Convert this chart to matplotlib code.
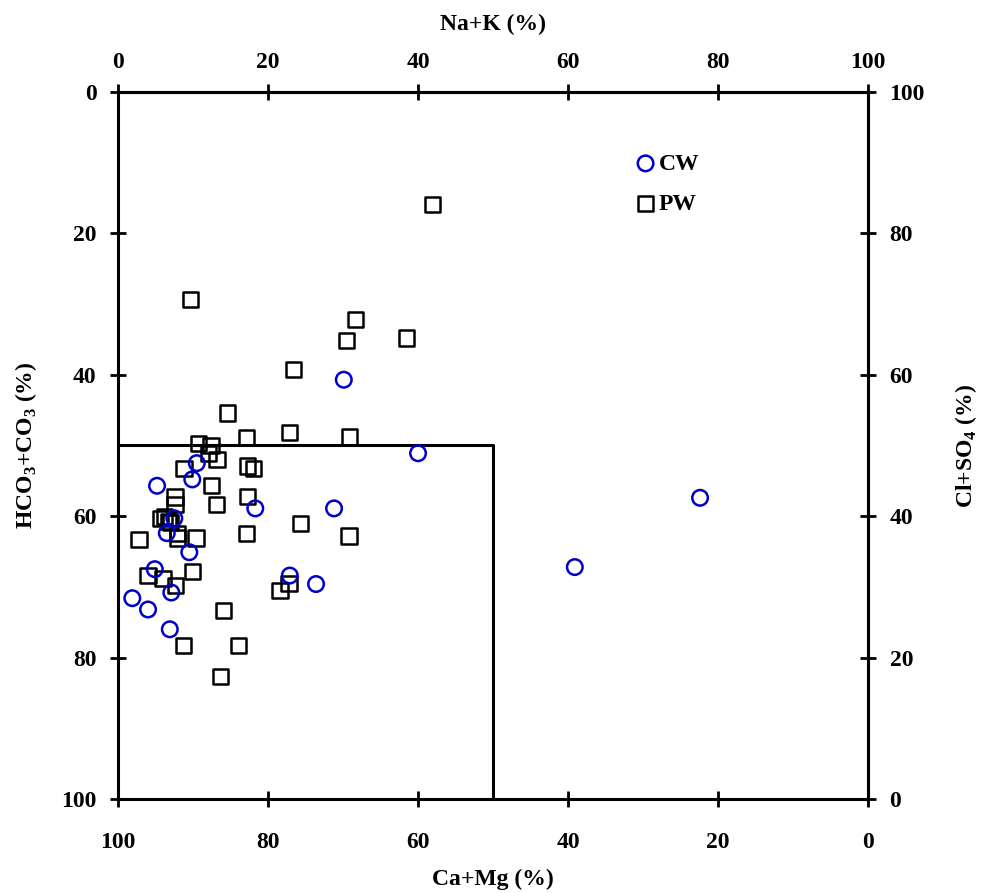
import matplotlib
matplotlib.use("Agg")
import matplotlib.pyplot as plt

plt.rcParams["font.family"] = "Liberation Serif"
plt.rcParams["font.weight"] = "bold"
plt.rcParams["mathtext.fontset"] = "custom"
plt.rcParams["mathtext.rm"] = "Liberation Serif:bold"
plt.rcParams["mathtext.bf"] = "Liberation Serif:bold"

# Na+K (%) and HCO3+CO3 (%) for each sample
cw_nak = [30.1, 40.0, 77.6, 60.9, 5.2, 9.9, 10.5, 18.3, 28.8, 7.5, 6.5,
          9.5, 4.9, 7.1, 1.9, 4.0, 6.9, 22.9, 26.4]
cw_hco3 = [40.7, 51.1, 57.4, 67.2, 55.7, 54.8, 52.5, 58.9, 58.9, 60.3, 62.4,
           65.1, 67.5, 70.8, 71.6, 73.2, 76.0, 68.4, 69.6]

pw_nak = [41.9, 9.7, 31.7, 30.5, 38.5, 23.4, 14.6, 22.9, 30.9, 17.1, 10.7,
          12.4, 13.2, 12.1, 8.8, 17.3, 18.1, 12.5, 7.6, 7.6, 13.1, 17.3,
          24.3, 5.7, 6.7, 6.2, 7.0, 7.9, 7.9, 2.8, 10.4, 17.1, 30.8, 4.0,
          6.0, 7.7, 9.9, 14.1, 8.7, 16.1, 13.7, 21.6, 22.8]
pw_hco3 = [15.9, 29.3, 32.2, 35.1, 34.8, 39.2, 45.4, 48.2, 48.8, 48.9, 49.7,
           50.0, 52.0, 51.1, 53.3, 52.9, 53.3, 55.7, 57.3, 58.4, 58.3, 57.2,
           61.0, 60.3, 60.7, 60.0, 60.9, 62.4, 63.1, 63.3, 63.1, 62.4, 62.8,
           68.4, 68.8, 69.8, 67.8, 73.3, 78.3, 78.3, 82.7, 70.5, 69.5]

ticks = [0, 20, 40, 60, 80, 100]
nak_labels = ["0", "20", "40", "60", "80", "100"]
camg_labels = ["100", "80", "60", "40", "20", "0"]
hco3_labels = ["0", "20", "40", "60", "80", "100"]
clso4_labels = ["100", "80", "60", "40", "20", "0"]

fig = plt.figure(figsize=(9.87, 8.93), dpi=100)
ax = fig.add_axes([0.1196, 0.1053, 0.7599, 0.7917])

# boundary lines splitting the field
ax.plot([0, 50, 50], [50, 50, 100], color="black", lw=2.2, zorder=1)

ax.scatter(cw_nak, cw_hco3, s=125, facecolors="none", edgecolors="#0000cc",
           linewidths=1.8, marker="o", label="CW", zorder=3)
ax.scatter(pw_nak, pw_hco3, s=120, facecolors="none", edgecolors="black",
           linewidths=1.8, marker="s", label="PW", zorder=2)

ax.set_xlim(0, 100)
ax.set_ylim(100, 0)

for side in ["left", "right", "top", "bottom"]:
    ax.spines[side].set_linewidth(2.2)

ax.set_xticks(ticks)
ax.set_xticklabels(camg_labels)
ax.set_yticks(ticks)
ax.set_yticklabels(hco3_labels)
ax.tick_params(axis="both", direction="inout", length=11, width=2,
               labelsize=17, pad=10)
ax.tick_params(axis="x", pad=18)

top = ax.secondary_xaxis("top")
top.set_xticks(ticks)
top.set_xticklabels(nak_labels)
top.tick_params(direction="inout", length=11, width=2, labelsize=17, pad=8)
top.spines["top"].set_linewidth(2.2)

right = ax.secondary_yaxis("right")
right.set_yticks(ticks)
right.set_yticklabels(clso4_labels)
right.tick_params(direction="inout", length=11, width=2, labelsize=17, pad=10)
right.spines["right"].set_linewidth(2.2)

ax.set_xlabel("Ca+Mg (%)", fontsize=17, fontweight="bold", labelpad=12)
ax.set_ylabel(r"HCO$_{3}$+CO$_{3}$ (%)", fontsize=17, fontweight="bold",
              labelpad=16)
top.set_xlabel("Na+K (%)", fontsize=17, fontweight="bold", labelpad=16)
right.set_ylabel(r"Cl+SO$_{4}$ (%)", fontsize=17, fontweight="bold",
                 labelpad=20)

ax.legend(loc="upper left", bbox_to_anchor=(0.675, 0.927), frameon=False,
          fontsize=17, handletextpad=0.05, handlelength=1.0,
          labelspacing=0.78, borderaxespad=0)

fig.savefig("out.png", dpi=100)
